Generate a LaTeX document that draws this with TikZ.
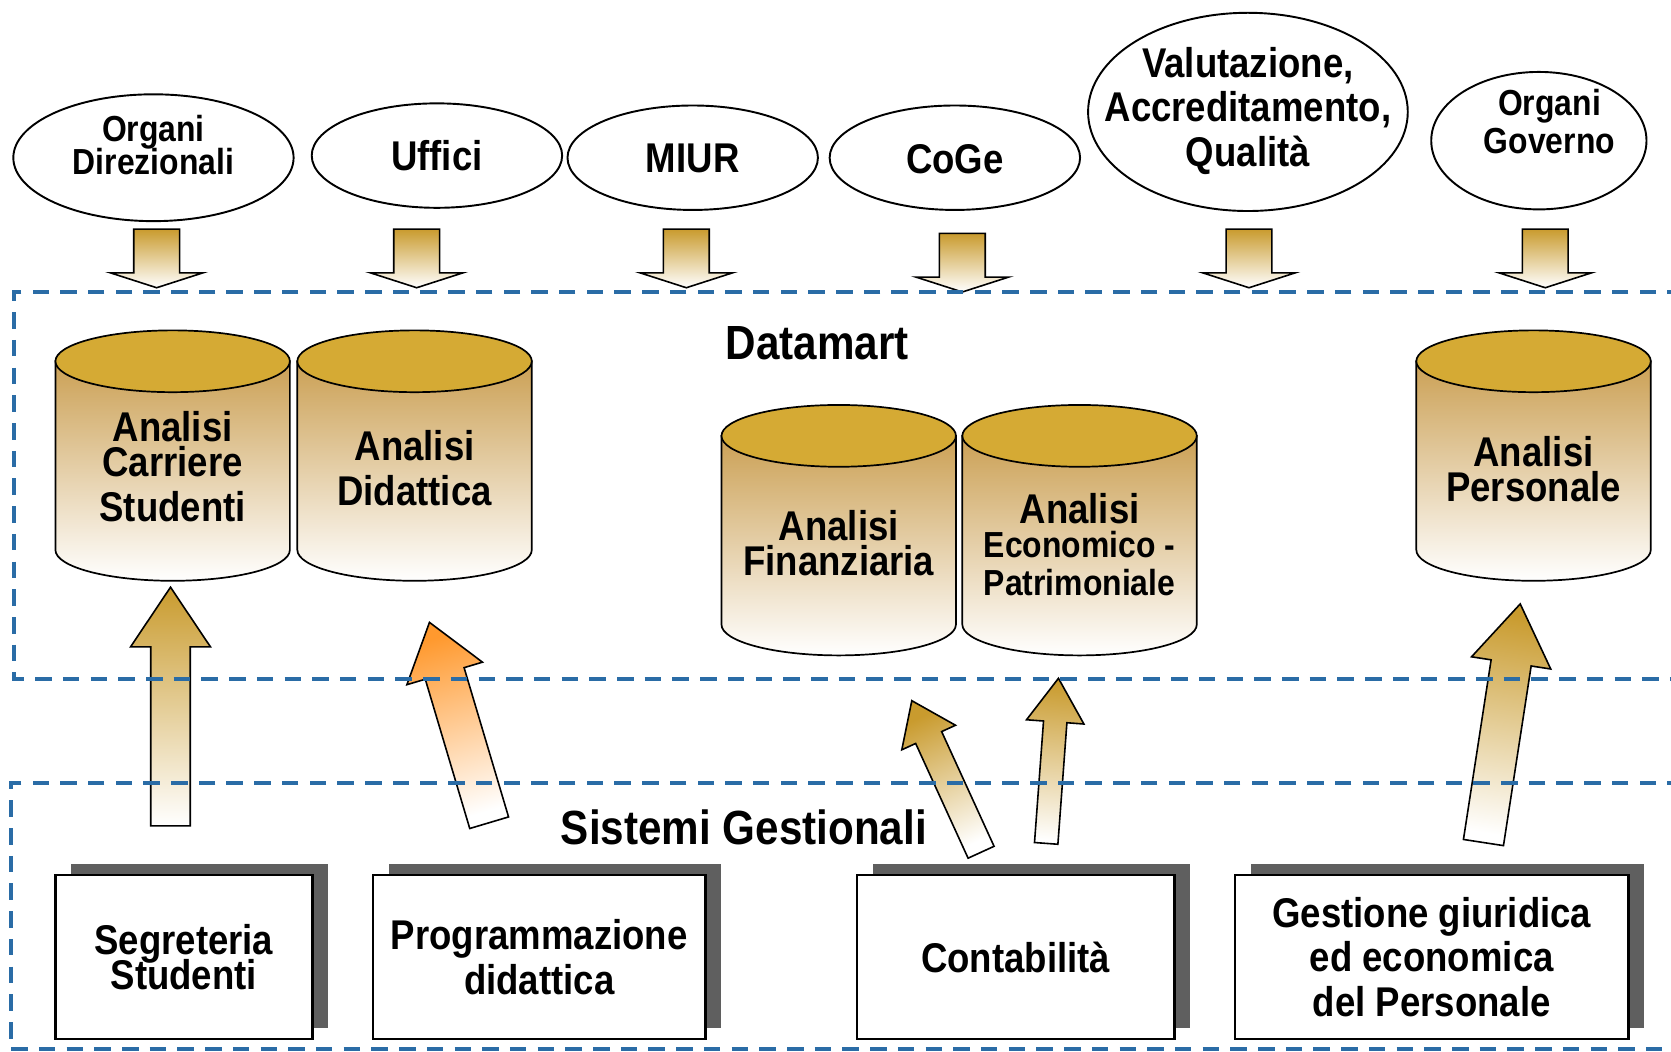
\documentclass[tikz,border=0pt]{standalone}
\usepackage{fontspec}
\setmainfont{Liberation Sans}[FakeStretch=0.88]
\usetikzlibrary{calc,shapes.geometric,shadows}

\definecolor{dashblue}{RGB}{42,108,166}
\definecolor{capgold}{RGB}{213,170,52}
\definecolor{bodytan}{RGB}{203,160,84}
\definecolor{arrowgold}{RGB}{201,155,46}
\definecolor{arroworange}{RGB}{255,153,46}
\definecolor{shadowgray}{RGB}{95,95,95}

\tikzset{
  source/.style={ellipse, draw, line width=1.8pt, fill=white, inner sep=0pt},
  bigtxt/.style={align=center, font=\bfseries\fontsize{39}{42}\selectfont},
  smalltxt/.style={align=center, font=\bfseries\fontsize{34}{35}\selectfont},
  titletxt/.style={font=\bfseries\fontsize{45}{48}\selectfont},
  sysbox/.style={bigtxt, draw, line width=2.4pt, fill=white, minimum height=154pt, inner sep=0pt,
    general shadow={fill=shadowgray, shadow xshift=15pt, shadow yshift=10pt}},
  cylbody/.style={line width=1.6pt, top color=bodytan, bottom color=white},
  cylcap/.style={line width=1.6pt, fill=capgold},
  feed/.style={line width=1.5pt, top color=arrowgold, bottom color=white},
  areabox/.style={dashblue, line width=3.6pt, dash pattern=on 15.5pt off 10.5pt}
}

% block arrow: [options](tail)(tip)(shaft half width:head half width:head length)
\def\blockarrow[#1](#2)(#3)(#4:#5:#6){%
  \coordinate (ba-base) at ($(#3)!#6!(#2)$);
  \draw[#1] ($(#2)!#4!90:(#3)$) -- ($(ba-base)!#4!90:(#3)$) -- ($(ba-base)!#5!90:(#3)$) -- (#3)
    -- ($(ba-base)!#5!-90:(#3)$) -- ($(ba-base)!#4!-90:(#3)$) -- ($(#2)!#4!-90:(#3)$) -- cycle;}

% database cylinder: (x centre:top y:bottom y)
\def\datacyl(#1:#2:#3){%
  \draw[cylbody] (#1-110,#2) -- (#1-110,#3) arc[start angle=180, end angle=0, x radius=110, y radius=29] -- (#1+110,#2) -- cycle;
  \draw[cylcap] (#1,#2) ellipse [x radius=110, y radius=29];}

\begin{document}
\begin{tikzpicture}[x=1pt, y=-1pt]
  \useasboundingbox (0,0) rectangle (1568,987);

  %%%%% SOURCES %%%%%
  \node[source, minimum width=263pt, minimum height=119pt,
    label={[smalltxt, yshift=12pt]center:Organi\\[-4pt]Direzionali}] (orgdir) at (144,148) {};
  \node[source, minimum width=235pt, minimum height=98pt, label={[bigtxt]center:Uffici}] (uffici) at (410,146) {};
  \node[source, minimum width=235pt, minimum height=98pt, label={[bigtxt, yshift=-1pt]center:MIUR}] (miur) at (650,148) {};
  \node[source, minimum width=235pt, minimum height=98pt, label={[bigtxt, yshift=-1pt]center:CoGe}] (coge) at (896,148) {};
  \node[source, minimum width=300pt, minimum height=186pt,
    label={[bigtxt, yshift=1pt]center:Valutazione,\\Accreditamento,\\Qualità}] (valut) at (1171,105) {};
  \node[source, minimum width=202pt, minimum height=129pt,
    label={[smalltxt, xshift=10pt, yshift=18pt]center:Organi\\Governo}] (orggov) at (1444,132) {};

  \coordinate (orgdir-s) at (147,215);   \coordinate (orgdir-e) at (147,270);
  \coordinate (uffici-s) at (391,215);   \coordinate (uffici-e) at (391,270);
  \coordinate (miur-s) at (644,215);     \coordinate (miur-e) at (644,270);
  \coordinate (coge-s) at (903,219);     \coordinate (coge-e) at (903,274);
  \coordinate (valut-s) at (1172,215);   \coordinate (valut-e) at (1172,270);
  \coordinate (orggov-s) at (1450,215);  \coordinate (orggov-e) at (1450,270);

  \blockarrow[feed](orgdir-s)(orgdir-e)(21.5pt:43.5pt:14pt)
  \blockarrow[feed](uffici-s)(uffici-e)(21.5pt:43.5pt:14pt)
  \blockarrow[feed](miur-s)(miur-e)(21.5pt:43.5pt:14pt)
  \blockarrow[feed](coge-s)(coge-e)(21.5pt:43.5pt:14pt)
  \blockarrow[feed](valut-s)(valut-e)(21.5pt:43.5pt:14pt)
  \blockarrow[feed](orggov-s)(orggov-e)(21.5pt:43.5pt:14pt)

  %%%%% DATAMART %%%%%
  \node[titletxt] (datamart) at (767,322) {Datamart};

  \datacyl(162:339:516)
  \datacyl(389:339:516)
  \datacyl(787:409:586)
  \datacyl(1013:409:586)
  \datacyl(1439:339:516)

  \node[bigtxt] (carriere) at (162,438) {Analisi\\[-9pt]Carriere\\Studenti};
  \node[bigtxt] (didattica) at (389,439) {Analisi\\Didattica};
  \node[bigtxt] (finanz) at (787,510) {Analisi\\[-9pt]Finanziaria};
  \node[smalltxt] (econ) at (1013,511) {{\fontsize{39}{42}\selectfont Analisi}\\[-3pt]Economico -\\Patrimoniale};
  \node[bigtxt] (personale) at (1439,440) {Analisi\\[-9pt]Personale};

  %%%%% SISTEMI GESTIONALI %%%%%
  \node[titletxt] (sistemi) at (698,776) {Sistemi Gestionali};

  \node[sysbox, minimum width=241pt] (segreteria) at (172.5,898) {Segreteria\\[-9pt]Studenti};
  \node[sysbox, minimum width=312pt] (programm) at (506,898) {Programmazione\\didattica};
  \node[sysbox, minimum width=298pt] (contab) at (953,898) {Contabilità};
  \node[sysbox, minimum width=369pt] (gestione) at (1343.5,898) {Gestione giuridica\\ed economica\\del Personale};

  \coordinate (segreteria-n) at (160,775);  \coordinate (carriere-s) at (160,551);
  \coordinate (programm-n) at (459,772);    \coordinate (didattica-s) at (403,584);
  \coordinate (contab-nw) at (920.6,799.7); \coordinate (finanz-s) at (855.6,657.5);
  \coordinate (contab-ne) at (981.7,791.4); \coordinate (econ-s) at (993.2,636.5);
  \coordinate (gestione-n) at (1392,790.6); \coordinate (personale-s) at (1426.5,566.7);

  \blockarrow[feed](segreteria-n)(carriere-s)(18.5pt:37.5pt:56pt)
  \blockarrow[feed, top color=arroworange, shading angle=16.8](programm-n)(didattica-s)(19pt:37pt:50pt)
  \blockarrow[feed, shading angle=24.6](contab-nw)(finanz-s)(13.4pt:27.7pt:38pt)
  \blockarrow[feed, shading angle=-4.2](contab-ne)(econ-s)(11pt:27pt:41pt)
  \blockarrow[feed, shading angle=-8.8](gestione-n)(personale-s)(19pt:37.6pt:56pt)

  %%%%% AREAS %%%%%
  \draw[areabox] (1580,274) -- (13,274) -- (13,637) -- (1580,637);
  \draw[areabox] (1580,735) -- (10,735) -- (10,984.5) -- (1580,984.5);
\end{tikzpicture}
\end{document}
